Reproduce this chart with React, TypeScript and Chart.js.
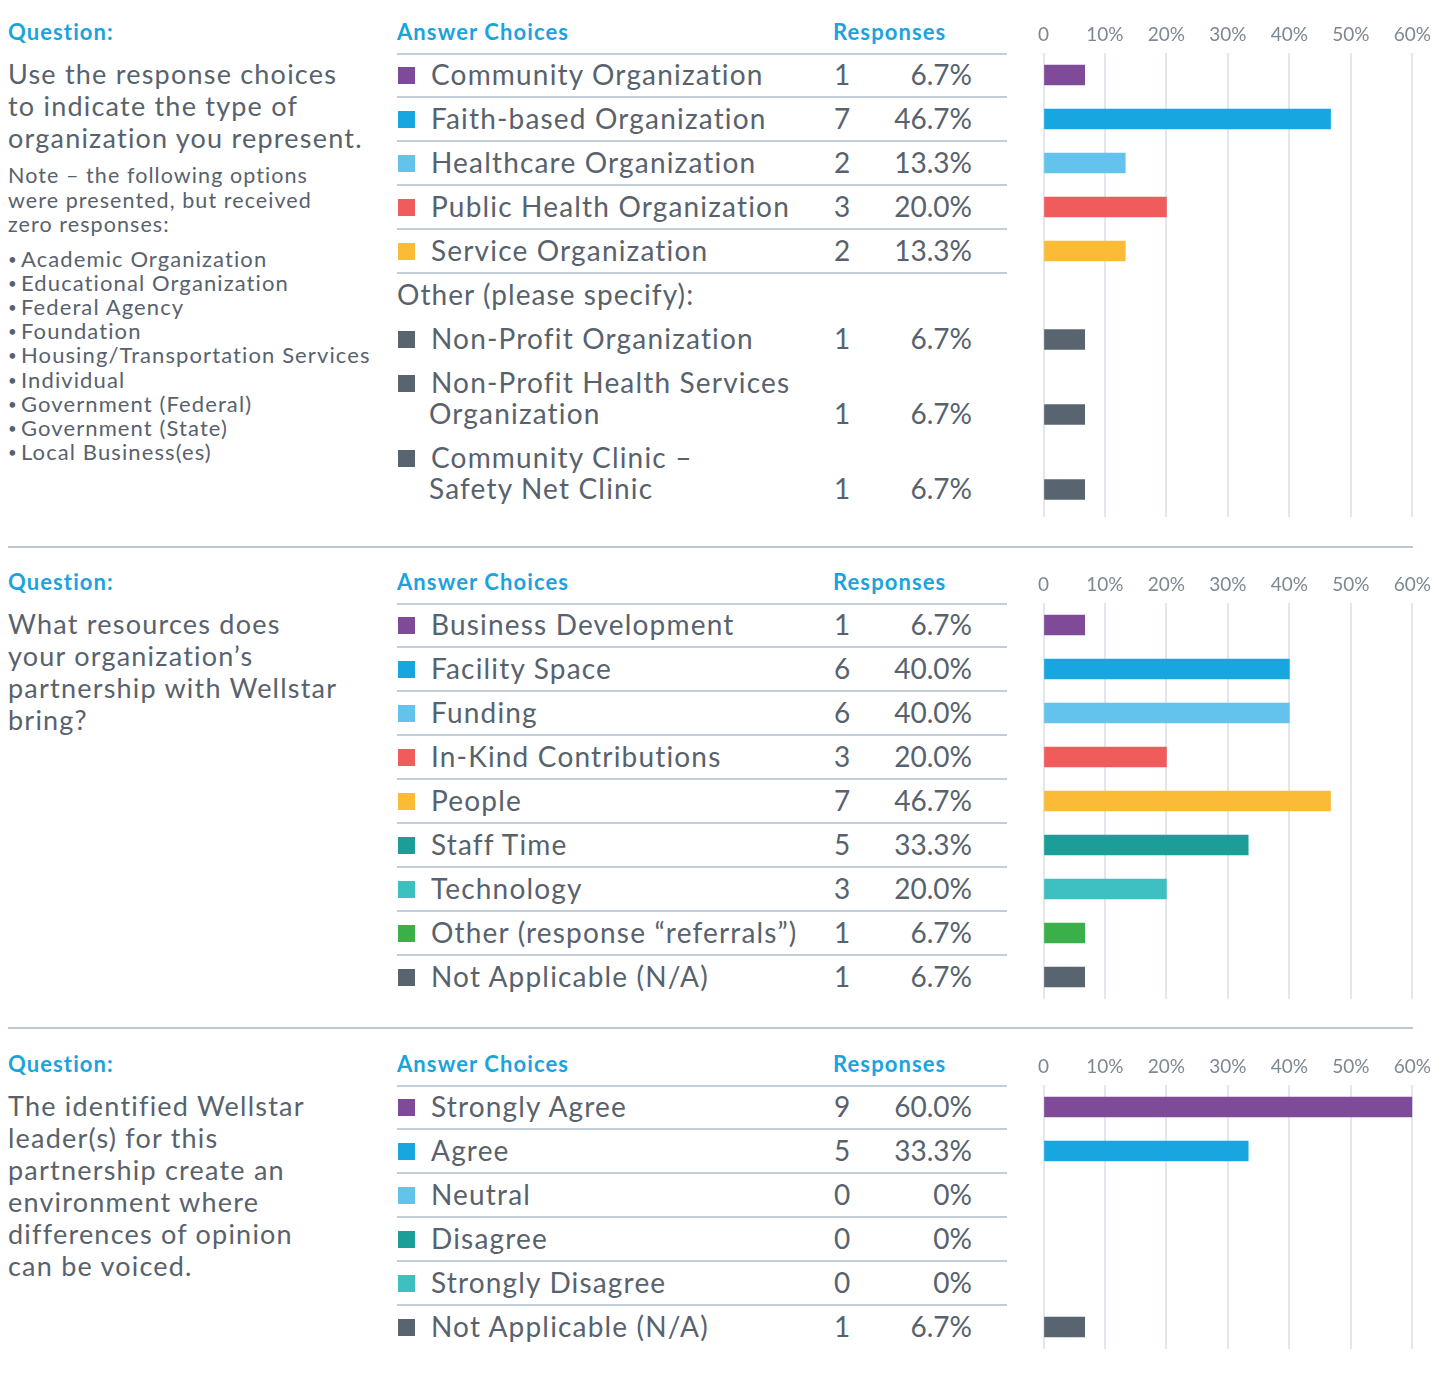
import React, { useEffect, useRef } from "react";
import { Chart, registerables } from "chart.js";

Chart.register(...registerables);

// ---------- data ----------
const xTickValues = [0, 10, 20, 30, 40, 50, 60];

const q1Question = ["Use the response choices", "to indicate the type of", "organization you represent."];
const q1Note = ["Note – the following options", "were presented, but received", "zero responses:"];
const q1ZeroOptions = [
  "Academic Organization",
  "Educational Organization",
  "Federal Agency",
  "Foundation",
  "Housing/Transportation Services",
  "Individual",
  "Government (Federal)",
  "Government (State)",
  "Local Business(es)",
];
const q1Choices = [
  "Community Organization",
  "Faith-based Organization",
  "Healthcare Organization",
  "Public Health Organization",
  "Service Organization",
];
const q1Counts = [1, 7, 2, 3, 2];
const q1Percents = [6.7, 46.7, 13.3, 20.0, 13.3];
const q1OtherHeading = "Other (please specify):";
const q1OtherChoices = [
  ["Non-Profit Organization"],
  ["Non-Profit Health Services", "Organization"],
  ["Community Clinic –", "Safety Net Clinic"],
];
const q1OtherCounts = [1, 1, 1];
const q1OtherPercents = [6.7, 6.7, 6.7];

const q2Question = ["What resources does", "your organization’s", "partnership with Wellstar", "bring?"];
const q2Choices = [
  "Business Development",
  "Facility Space",
  "Funding",
  "In-Kind Contributions",
  "People",
  "Staff Time",
  "Technology",
  "Other (response “referrals”)",
  "Not Applicable (N/A)",
];
const q2Counts = [1, 6, 6, 3, 7, 5, 3, 1, 1];
const q2Percents = [6.7, 40.0, 40.0, 20.0, 46.7, 33.3, 20.0, 6.7, 6.7];

const q3Question = [
  "The identified Wellstar",
  "leader(s) for this",
  "partnership create an",
  "environment where",
  "differences of opinion",
  "can be voiced.",
];
const q3Choices = ["Strongly Agree", "Agree", "Neutral", "Disagree", "Strongly Disagree", "Not Applicable (N/A)"];
const q3Counts = [9, 5, 0, 0, 0, 1];
const q3Percents = [60.0, 33.3, 0, 0, 0, 6.7];

// ---------- styles ----------
const FONT = "Lato, 'Open Sans', sans-serif";
const TEXT = "#58626d";
const HEAD = "#1ba3de";
const PURPLE = "#7f4b99";
const BLUE = "#17a6df";
const LIGHTBLUE = "#63c3ec";
const RED = "#f05b5b";
const YELLOW = "#fbbb36";
const GRAY = "#58646f";
const TEAL = "#1a9e97";
const TURQ = "#3fc0c0";
const GREEN = "#3bb04a";

const q1Colors = [PURPLE, BLUE, LIGHTBLUE, RED, YELLOW];
const q1OtherColors = [GRAY, GRAY, GRAY];
const q2Colors = [PURPLE, BLUE, LIGHTBLUE, RED, YELLOW, TEAL, TURQ, GREEN, GRAY];
const q3Colors = [PURPLE, BLUE, LIGHTBLUE, TEAL, TURQ, GRAY];

const fmtPct = (p: number) => (p === 0 ? "0%" : p.toFixed(1) + "%");

// ---------- chart ----------
type BarProps = {
  labels: string[];
  values: (number | null)[];
  colors: string[];
  top: number;
  height: number;
  clip?: number;
  showTicks: boolean;
};

const CHART_LEFT = 1013;
const CHART_WIDTH = 435;
const AXIS_H = 40;

function BarChart({ labels, values, colors, top, height, clip, showTicks }: BarProps) {
  const ref = useRef<HTMLCanvasElement>(null);
  useEffect(() => {
    const chart = new Chart(ref.current as HTMLCanvasElement, {
      type: "bar",
      data: {
        labels,
        datasets: [
          {
            data: values.map((v) => (v === 0 ? null : v)) as any,
            backgroundColor: colors,
            borderWidth: 0,
            barThickness: 20,
          },
        ],
      },
      options: {
        indexAxis: "y",
        responsive: false,
        animation: false,
        devicePixelRatio: 1,
        layout: { padding: { left: 30.5, right: 35.7, top: 0, bottom: 0 } },
        plugins: { legend: { display: false }, tooltip: { enabled: false } },
        scales: {
          x: {
            type: "linear",
            position: "top",
            min: 0,
            max: 60,
            afterBuildTicks: (s: any) => {
              s.ticks = xTickValues.map((v) => ({ value: v }));
            },
            afterFit: (s: any) => {
              if (showTicks) s.height = AXIS_H;
            },
            ticks: {
              display: showTicks,
              padding: 7,
              color: "#7d8893",
              font: { family: FONT, size: 19 },
              maxRotation: 0,
              autoSkip: false,
              callback: (v: any) => (Number(v) === 0 ? "0" : v + "%"),
            },
            grid: { color: "#e2e7ee", lineWidth: 2, drawTicks: false },
            border: { display: false },
          },
          y: {
            type: "category",
            display: false,
            offset: true,
            grid: { display: false },
          },
        },
      },
    });
    return () => chart.destroy();
  }, []);
  const totalH = height + (showTicks ? AXIS_H : 0);
  const canvasTop = top - (showTicks ? AXIS_H : 0);
  return (
    <div
      style={{
        position: "absolute",
        left: CHART_LEFT,
        top: canvasTop,
        width: CHART_WIDTH,
        height: clip !== undefined ? clip + (showTicks ? AXIS_H : 0) : totalH,
        overflow: "hidden",
      }}
    >
      <canvas ref={ref} width={CHART_WIDTH} height={totalH} style={{ display: "block" }} />
    </div>
  );
}

// ---------- text helpers ----------
function Txt({
  x,
  y,
  size,
  children,
  color = TEXT,
  weight = 400,
  align = "left",
  w,
  ls = "0.045em",
}: {
  x: number;
  y: number;
  size: number;
  children: React.ReactNode;
  color?: string;
  weight?: number;
  align?: "left" | "right" | "center";
  w?: number;
  ls?: string;
}) {
  const lh = 40;
  return (
    <div
      style={{
        position: "absolute",
        left: x,
        top: y - lh / 2 - 1,
        width: w,
        height: lh,
        lineHeight: lh + "px",
        fontSize: size,
        fontFamily: FONT,
        fontWeight: weight,
        color,
        textAlign: align,
        whiteSpace: "nowrap",
        letterSpacing: ls,
      }}
    >
      {children}
    </div>
  );
}

function HLine({ x1, x2, y, color, h }: { x1: number; x2: number; y: number; color: string; h: number }) {
  return <div style={{ position: "absolute", left: x1, top: y - h / 2, width: x2 - x1, height: h, background: color }} />;
}

function Square({ y, color }: { y: number; color: string }) {
  return <div style={{ position: "absolute", left: 398, top: y - 8.5, width: 17, height: 17, background: color }} />;
}

const ROW = 44;
const TABLE_LINE = "#c2cfdb";

function Row({ y, label, count, pct, color }: { y: number; label: string[]; count: number; pct: number; color: string }) {
  const n = label.length;
  const lastY = y + (n - 1) * 31;
  return (
    <>
      <Square y={y} color={color} />
      {label.map((l, i) => (
        <Txt key={i} x={i === 0 ? 431 : 429} y={y + i * 31} size={28} ls="0.042em">
          {l}
        </Txt>
      ))}
      <Txt x={822} y={lastY} size={28} w={40} align="center" ls="0">
        {count}
      </Txt>
      <Txt x={872} y={lastY} size={28} w={100} align="right" ls="0">
        {fmtPct(pct)}
      </Txt>
    </>
  );
}

function Header({ y }: { y: number }) {
  return (
    <>
      <Txt x={8} y={y} size={22} weight={700} color={HEAD} ls="0.05em">
        Question:
      </Txt>
      <Txt x={397} y={y} size={22} weight={700} color={HEAD} ls="0.05em">
        Answer Choices
      </Txt>
      <Txt x={833} y={y} size={22} weight={700} color={HEAD} ls="0.05em">
        Responses
      </Txt>
      <HLine x1={397} x2={1007} y={y + 21} color={TABLE_LINE} h={2} />
    </>
  );
}

function Table({ firstY, labels, counts, pcts, colors }: { firstY: number; labels: string[]; counts: number[]; pcts: number[]; colors: string[] }) {
  return (
    <>
      {labels.map((l, i) => (
        <React.Fragment key={i}>
          <Row y={firstY + i * ROW} label={[l]} count={counts[i]} pct={pcts[i]} color={colors[i]} />
          {i < labels.length - 1 && <HLine x1={397} x2={1007} y={firstY + i * ROW + 22} color={TABLE_LINE} h={2} />}
        </React.Fragment>
      ))}
    </>
  );
}

export default function App() {
  const s1 = 33;
  const s2 = 583;
  const s3 = 1065;
  return (
    <div style={{ position: "absolute", left: 0, top: 0, width: 1448, height: 1373, background: "#fff", overflow: "hidden" }}>
      {/* Section 1 */}
      <Header y={s1} />
      {q1Question.map((l, i) => (
        <Txt key={i} x={8} y={75 + i * 32} size={27}>
          {l}
        </Txt>
      ))}
      {q1Note.map((l, i) => (
        <Txt key={i} x={8} y={176 + i * 24.5} size={21.5} ls="0.05em">
          {l}
        </Txt>
      ))}
      {q1ZeroOptions.map((l, i) => (
        <React.Fragment key={i}>
          <Txt x={8} y={260 + i * 24.1} size={15} ls="0">
            •
          </Txt>
          <Txt x={21} y={260 + i * 24.1} size={22} ls="0.05em">
            {l}
          </Txt>
        </React.Fragment>
      ))}
      <Table firstY={75} labels={q1Choices} counts={q1Counts} pcts={q1Percents} colors={q1Colors} />
      <HLine x1={397} x2={1007} y={75 + 4 * ROW + 22} color={TABLE_LINE} h={2} />
      <Txt x={397} y={295} size={28} ls="0.038em">
        {q1OtherHeading}
      </Txt>
      {q1OtherChoices.map((l, i) => (
        <Row key={i} y={339 + i * 75 - (l.length > 1 ? 31 : 0)} label={l} count={q1OtherCounts[i]} pct={q1OtherPercents[i]} color={q1OtherColors[i]} />
      ))}
      <BarChart
        labels={[...q1Choices, q1OtherHeading]}
        values={[...q1Percents, null]}
        colors={[...q1Colors, GRAY]}
        top={53}
        height={6 * ROW}
        showTicks={true}
      />
      <BarChart
        labels={q1OtherChoices.map((l) => l.join(" "))}
        values={q1OtherPercents}
        colors={q1OtherColors}
        top={301.5}
        height={225}
        clip={215.5}
        showTicks={false}
      />
      <HLine x1={8} x2={1413} y={547} color="#bfc8d1" h={2} />

      {/* Section 2 */}
      <Header y={s2} />
      {q2Question.map((l, i) => (
        <Txt key={i} x={8} y={625 + i * 32} size={27}>
          {l}
        </Txt>
      ))}
      <Table firstY={625} labels={q2Choices} counts={q2Counts} pcts={q2Percents} colors={q2Colors} />
      <BarChart labels={q2Choices} values={q2Percents} colors={q2Colors} top={603} height={9 * ROW} showTicks={true} />
      <HLine x1={8} x2={1413} y={1028} color="#bfc8d1" h={2} />

      {/* Section 3 */}
      <Header y={s3} />
      {q3Question.map((l, i) => (
        <Txt key={i} x={8} y={1107 + i * 32} size={27}>
          {l}
        </Txt>
      ))}
      <Table firstY={1107} labels={q3Choices} counts={q3Counts} pcts={q3Percents} colors={q3Colors} />
      <BarChart labels={q3Choices} values={q3Percents} colors={q3Colors} top={1085} height={6 * ROW} showTicks={true} />
    </div>
  );
}
